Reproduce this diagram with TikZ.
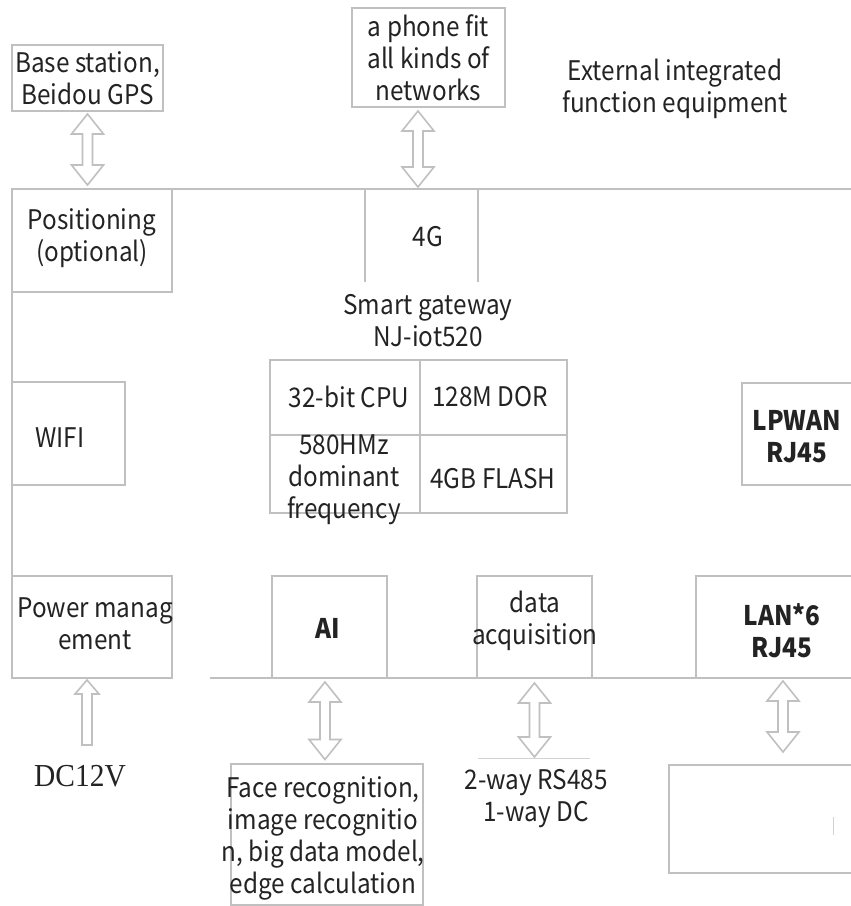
\documentclass[tikz,border=0pt]{standalone}
\usepackage{fontspec}
\setmainfont[FakeStretch=0.9]{Noto Sans CJK SC}
\newfontfamily\dcfont[FakeStretch=0.92]{Liberation Serif}
\usetikzlibrary{calc}
\newcommand\dblarr[2]{%
\path[harrow] let \p1=(#1), \p2=(#2) in
 (\x1,\y1) -- (\x1+16pt,\y1-20pt) -- (\x1+5pt,\y1-20pt) -- (\x1+5pt,\y2+20pt) -- (\x1+16pt,\y2+20pt)
 -- (\x1,\y2) -- (\x1-16pt,\y2+20pt) -- (\x1-5pt,\y2+20pt) -- (\x1-5pt,\y1-20pt) -- (\x1-16pt,\y1-20pt) -- cycle;}
\newcommand\uparr[2]{%
\path[harrow] let \p1=(#1), \p2=(#2) in
 (\x1,\y1) -- (\x1+12pt,\y1-14pt) -- (\x1+5pt,\y1-14pt) -- (\x1+5pt,\y2) -- (\x1-5pt,\y2) -- (\x1-5pt,\y1-14pt) -- (\x1-12pt,\y1-14pt) -- cycle;}
\begin{document}
\begin{tikzpicture}[x=1pt,y=-1pt]
\definecolor{lg}{RGB}{192,192,192}
\definecolor{tx}{RGB}{35,35,35}
\tikzset{
 bx/.style={draw=lg, line width=2pt, inner sep=0pt, align=center, text=tx, font=\fontsize{27}{32}\selectfont},
 lbl/.style={inner sep=0pt, align=center, text=tx, font=\fontsize{27}{32}\selectfont},
 bld/.style={font=\fontsize{27}{32}\selectfont\bfseries},
 frame/.style={draw=lg, line width=2pt},
 faint/.style={draw=lg!70, line width=1pt},
 harrow/.style={draw=lg, line width=1.6pt, fill=white, line join=miter},
}
\useasboundingbox (0,0) rectangle (851,906);
\fill[white] (0,0) rectangle (851,906);

% external devices
\node[bx, minimum width=151, minimum height=66] (base) at (87.5,78) {Base station,\\Beidou GPS};
\node[bx, minimum width=153, minimum height=99] (phone) at (428.5,57.5) {a phone fit\\all kinds of\\networks};
\node[lbl] (ext) at (675,89) {External integrated\\function equipment};

% gateway frame
\coordinate (tlL) at (12,189);
\coordinate (tlR) at (860,189);
\coordinate (blL) at (210,678);
\coordinate (blR) at (860,678);
\draw[frame] (tlL) -- (tlR);
\draw[frame] (tlL) -- (12,677);
\draw[frame] (blL) -- (blR);

\node[bx, minimum width=160, minimum height=103] (pos) at (92,240.5) {};
\node[lbl] (post) at (92,238) {Positioning\\(optional)};
\node[lbl, minimum width=113, minimum height=93] (g4) at (421.5,235.5) {};
\draw[frame] (g4.north west) -- (g4.south west);
\draw[frame] (g4.north east) -- (g4.south east);
\node[lbl] (g4t) at (428,237) {4G};

\node[lbl] (gw) at (428,321) {Smart gateway\\NJ-iot520};

% CPU grid
\node[bx, minimum width=150, minimum height=75] (cpu) at (345,397.5) {};
\node[lbl] (cput) at (349,397) {32-bit CPU};
\node[bx, minimum width=147, minimum height=75] (ddr) at (493.5,397.5) {};
\node[lbl] (ddrt) at (490,397) {128M DOR};
\node[bx, minimum width=150, minimum height=78] (fq) at (345,474) {};
\node[bx, minimum width=147, minimum height=78] (flash) at (493.5,474) {};
\node[lbl] (flasht) at (493,479) {4GB FLASH};
\node[lbl] (fqt) at (344,480) {580HMz\\dominant\\frequency};

\node[bx, minimum width=113, minimum height=103] (wifi) at (68.5,433.5) {};
\node[lbl] (wifit) at (60,438) {WIFI};
\node[bx, minimum width=128, minimum height=102] (lpwan) at (806,434) {};
\node[lbl, bld] (lpwant) at (797,437) {LPWAN\\RJ45};

% bottom row
\node[bx, minimum width=160, minimum height=102] (pwr) at (92,627) {};
\node[lbl] (pwrt) at (95,624) {Power manag\\ement};
\node[bx, minimum width=115, minimum height=102] (ai) at (329.5,627) {};
\node[lbl, bld] (ait) at (328,628) {AI};
\node[bx, minimum width=115, minimum height=102] (daq) at (534.5,627) {};
\node[lbl] (daqt) at (535,621) {data\\acquisition};
\node[bx, minimum width=174, minimum height=102] (lan) at (783,627) {};
\node[lbl, bld] (lant) at (782,631) {LAN*6\\RJ45};

% below
\node[lbl, font=\dcfont\fontsize{32}{36}\selectfont] (dc) at (80,776) {DC12V};
\node[bx, minimum width=192, minimum height=141] (face) at (327,834) {};
\node[lbl] (facet) at (323,838) {Face recognition,\\image recognitio\\n, big data model,\\edge calculation};
\node[lbl] (rs) at (536,799) {2-way RS485\\1-way DC};
\node[bx, minimum width=201, minimum height=108] (empty) at (769.5,819) {};
\draw[faint] (478,758) -- (590,758);
\draw[faint] (833,817) -- (833,835);

% arrows
\dblarr{[yshift=-2pt]base.south}{[yshift=4pt]base.south |- tlL}
\dblarr{[xshift=-10.5pt,yshift=-3pt]phone.south}{[xshift=-10.5pt,yshift=2pt]phone.south |- tlL}
\uparr{[xshift=-5pt,yshift=-1pt]pwr.south}{87,745}
\dblarr{[xshift=-4.5pt,yshift=-3pt]ai.south}{[xshift=-4.5pt,yshift=3pt]ai.south |- face.north}
\dblarr{[yshift=-4pt]daq.south}{535,757}
\dblarr{[yshift=-2pt]lan.south}{783,752}
\end{tikzpicture}
\end{document}
